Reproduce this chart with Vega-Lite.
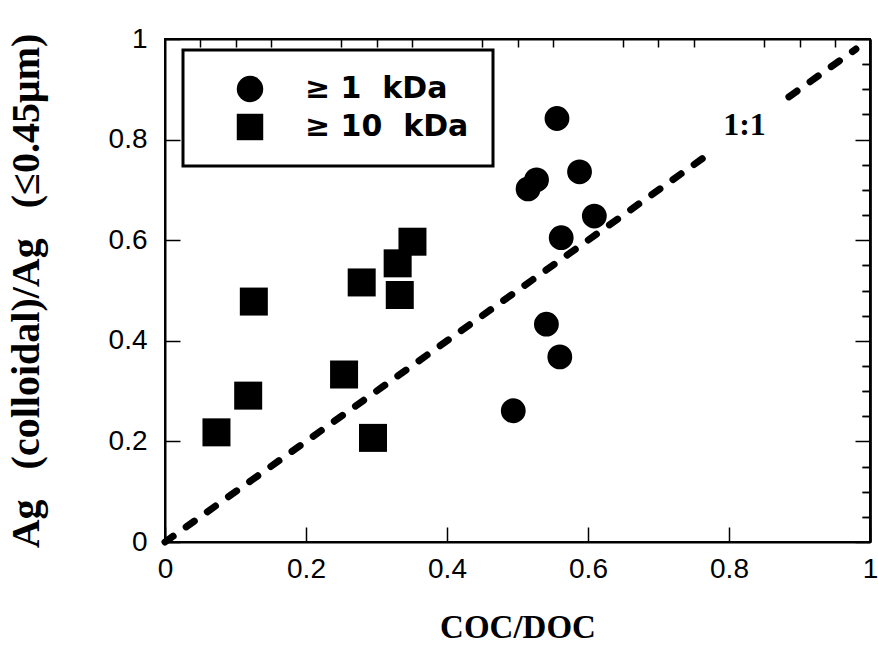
{
  "$schema": "https://vega.github.io/schema/vega-lite/v6.json",
  "width": 705,
  "height": 503,
  "autosize": {"type": "none"},
  "padding": {"left": 165, "top": 39, "right": 8, "bottom": 105},
  "background": "white",
  "datasets": {
    "circles": [
      {"coc_doc": 0.556, "ag_ratio": 0.842, "series": "≥ 1 kDa"},
      {"coc_doc": 0.588, "ag_ratio": 0.736, "series": "≥ 1 kDa"},
      {"coc_doc": 0.515, "ag_ratio": 0.702, "series": "≥ 1 kDa"},
      {"coc_doc": 0.527, "ag_ratio": 0.720, "series": "≥ 1 kDa"},
      {"coc_doc": 0.609, "ag_ratio": 0.648, "series": "≥ 1 kDa"},
      {"coc_doc": 0.562, "ag_ratio": 0.605, "series": "≥ 1 kDa"},
      {"coc_doc": 0.541, "ag_ratio": 0.433, "series": "≥ 1 kDa"},
      {"coc_doc": 0.560, "ag_ratio": 0.368, "series": "≥ 1 kDa"},
      {"coc_doc": 0.494, "ag_ratio": 0.261, "series": "≥ 1 kDa"}
    ],
    "squares": [
      {"coc_doc": 0.351, "ag_ratio": 0.597, "series": "≥ 10 kDa"},
      {"coc_doc": 0.330, "ag_ratio": 0.554, "series": "≥ 10 kDa"},
      {"coc_doc": 0.279, "ag_ratio": 0.516, "series": "≥ 10 kDa"},
      {"coc_doc": 0.333, "ag_ratio": 0.491, "series": "≥ 10 kDa"},
      {"coc_doc": 0.126, "ag_ratio": 0.478, "series": "≥ 10 kDa"},
      {"coc_doc": 0.254, "ag_ratio": 0.333, "series": "≥ 10 kDa"},
      {"coc_doc": 0.118, "ag_ratio": 0.291, "series": "≥ 10 kDa"},
      {"coc_doc": 0.073, "ag_ratio": 0.218, "series": "≥ 10 kDa"},
      {"coc_doc": 0.295, "ag_ratio": 0.207, "series": "≥ 10 kDa"}
    ],
    "oneToOne": [
      {"coc_doc": 0, "ag_ratio": 0, "segment": "a"},
      {"coc_doc": 0.765, "ag_ratio": 0.765, "segment": "a"},
      {"coc_doc": 0.885, "ag_ratio": 0.885, "segment": "b"},
      {"coc_doc": 0.98, "ag_ratio": 0.98, "segment": "b"}
    ],
    "note": [
      {"coc_doc": 0.822, "ag_ratio": 0.829, "text": "1:1"}
    ]
  },
  "config": {
    "view": {"stroke": "black", "strokeWidth": 2},
    "legend": {"strokeWidth": 3},
    "axis": {
      "grid": false,
      "domainColor": "black",
      "domainWidth": 2,
      "tickColor": "black",
      "tickWidth": 1.5,
      "labelColor": "black",
      "titleColor": "black",
      "labelFont": "Liberation Sans",
      "labelFontSize": 28,
      "labelFlush": false,
      "titleFont": "Liberation Serif",
      "titleFontWeight": "bold",
      "titleFontSize": 33
    }
  },
  "resolve": {"axis": {"x": "independent", "y": "independent"}},
  "layer": [
    {
      "data": {"name": "circles"},
      "mark": {"type": "point", "filled": true, "opacity": 1, "color": "black", "size": 616, "strokeWidth": 0},
      "encoding": {
        "x": {
          "field": "coc_doc", "type": "quantitative",
          "scale": {"domain": [0, 1], "nice": false, "zero": false},
          "axis": {"values": [0, 0.2, 0.4, 0.6, 0.8, 1], "format": "~g", "tickSize": -15, "labelPadding": 28, "title": "COC/DOC", "titlePadding": 28}
        },
        "y": {
          "field": "ag_ratio", "type": "quantitative",
          "scale": {"domain": [0, 1], "nice": false, "zero": false},
          "axis": {"values": [0, 0.2, 0.4, 0.6, 0.8, 1], "format": "~g", "tickSize": -15, "labelPadding": 33, "title": "Ag\u00a0\u00a0\u00a0(colloidal)/Ag\u00a0\u00a0\u00a0(≤0.45μm)", "titleFontSize": 40, "titlePadding": 62}
        },
        "shape": {
          "field": "series", "type": "nominal",
          "scale": {"domain": ["≥ 1 kDa", "≥ 10 kDa"], "range": ["circle", "square"]},
          "legend": {
            "orient": "none", "legendX": 18, "legendY": 11, "title": null,
            "padding": 24, "strokeColor": "black", "fillColor": "white",
            "symbolSize": 700, "symbolFillColor": "black", "symbolStrokeColor": "black", "symbolStrokeWidth": 0,
            "symbolOffset": 28, "labelOffset": 40,
            "labelFont": "DejaVu Sans", "labelFontSize": 30, "labelFontWeight": "bold", "labelColor": "black",
            "rowPadding": 8, "labelLimit": 400,
            "labelExpr": "replace(datum.label, ' kDa', '\u00a0\u00a0kDa')"
          }
        }
      }
    },
    {
      "data": {"name": "squares"},
      "mark": {"type": "point", "filled": true, "opacity": 1, "color": "black", "size": 784, "strokeWidth": 0},
      "encoding": {
        "x": {
          "field": "coc_doc", "type": "quantitative",
          "axis": {"values": [0.05, 0.1, 0.15, 0.25, 0.3, 0.35, 0.45, 0.5, 0.55, 0.65, 0.7, 0.75, 0.85, 0.9, 0.95], "tickSize": -8, "labels": false, "title": null}
        },
        "y": {
          "field": "ag_ratio", "type": "quantitative",
          "axis": {"values": [0.05, 0.1, 0.15, 0.25, 0.3, 0.35, 0.45, 0.5, 0.55, 0.65, 0.7, 0.75, 0.85, 0.9, 0.95], "tickSize": -8, "labels": false, "title": null}
        },
        "shape": {"field": "series", "type": "nominal"}
      }
    },
    {
      "data": {"name": "oneToOne"},
      "mark": {"type": "line", "color": "black", "strokeWidth": 7, "strokeDash": [10, 16], "strokeCap": "round"},
      "encoding": {
        "x": {"field": "coc_doc", "type": "quantitative", "axis": null},
        "y": {
          "field": "ag_ratio", "type": "quantitative",
          "axis": {"orient": "right", "values": [0, 0.2, 0.4, 0.6, 0.8, 1], "tickSize": -15, "labels": false, "title": null}
        },
        "detail": {"field": "segment", "type": "nominal"}
      }
    },
    {
      "data": {"name": "note"},
      "mark": {"type": "text", "font": "Liberation Serif", "fontWeight": "bold", "fontSize": 32, "color": "black", "align": "center", "baseline": "middle"},
      "encoding": {
        "x": {"field": "coc_doc", "type": "quantitative", "axis": null},
        "y": {
          "field": "ag_ratio", "type": "quantitative",
          "axis": {"orient": "right", "values": [0.05, 0.1, 0.15, 0.25, 0.3, 0.35, 0.45, 0.5, 0.55, 0.65, 0.7, 0.75, 0.85, 0.9, 0.95], "tickSize": -8, "labels": false, "title": null}
        },
        "text": {"field": "text"}
      }
    }
  ]
}
